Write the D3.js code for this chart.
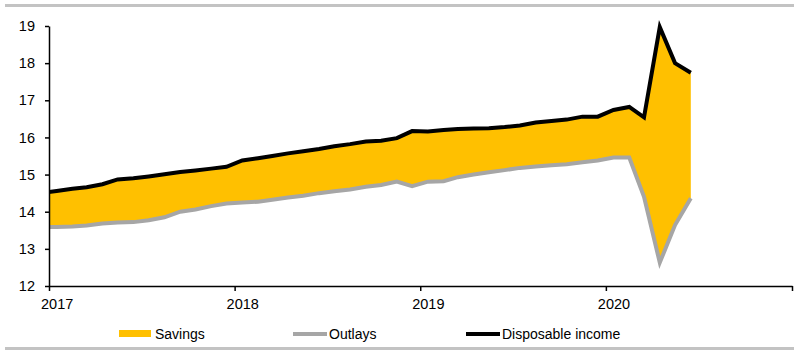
<!DOCTYPE html>
<html>
<head>
<meta charset="utf-8">
<script src="https://cdn.jsdelivr.net/npm/d3@7"></script>
<style>
  body { margin: 0; background: #fff; }
  svg { display: block; font-family: "Liberation Sans", Arial, sans-serif; }
</style>
</head>
<body>
<svg id="chart" width="800" height="354"></svg>
<script>
// Monthly series, Dec 2016 .. Jun 2020 (trillions, annualised)
const months = [
  '2016-12',
  '2017-01','2017-02','2017-03','2017-04','2017-05','2017-06','2017-07','2017-08','2017-09','2017-10','2017-11','2017-12',
  '2018-01','2018-02','2018-03','2018-04','2018-05','2018-06','2018-07','2018-08','2018-09','2018-10','2018-11','2018-12',
  '2019-01','2019-02','2019-03','2019-04','2019-05','2019-06','2019-07','2019-08','2019-09','2019-10','2019-11','2019-12',
  '2020-01','2020-02','2020-03','2020-04','2020-05','2020-06'
];
const income = [
  14.50,
  14.56, 14.62, 14.66, 14.74, 14.87, 14.90, 14.95, 15.01, 15.07, 15.11, 15.16, 15.21,
  15.38, 15.44, 15.50, 15.57, 15.63, 15.69, 15.76, 15.82, 15.89, 15.91, 15.98, 16.17,
  16.16, 16.20, 16.23, 16.24, 16.25, 16.28, 16.32, 16.40, 16.44, 16.48, 16.56, 16.56,
  16.74, 16.82, 16.54, 18.97, 18.00, 17.74
];
const outlays = [
  13.58,
  13.59, 13.60, 13.63, 13.68, 13.71, 13.72, 13.77, 13.85, 14.00, 14.06, 14.15, 14.22,
  14.25, 14.27, 14.32, 14.38, 14.43, 14.50, 14.55, 14.60, 14.67, 14.72, 14.81, 14.69,
  14.81, 14.82, 14.93, 15.00, 15.06, 15.12, 15.18, 15.22, 15.25, 15.28, 15.33, 15.38,
  15.46, 15.46, 14.40, 12.63, 13.64, 14.36
];
const yearTicks = [2017, 2018, 2019, 2020, 2021];
const yTicks = [12, 13, 14, 15, 16, 17, 18, 19];
const legendItems = ['Savings', 'Outlays', 'Disposable income'];

const GOLD = '#ffc000', GREY = '#a6a6a6', BLACK = '#000';

const svg = d3.select('#chart');
const plotL = 49, plotR = 792, plotT = 26, plotB = 286;

const parse = d3.timeParse('%Y-%m');
// plot each month in the middle of its month cell
const data = months.map(function(m, i) {
  const d = parse(m);
  return { date: new Date(d.getFullYear(), d.getMonth(), 16), inc: income[i], out: outlays[i] };
});

const x = d3.scaleTime()
  .domain([new Date(2017, 0, 1), new Date(2021, 0, 1)])
  .range([plotL, plotR]);
const y = d3.scaleLinear().domain([12, 19]).range([plotB, plotT]);

// frame rules
svg.append('rect').attr('x', 5).attr('y', 4).attr('width', 789).attr('height', 3).attr('fill', '#c3c3c3');
svg.append('rect').attr('x', 5).attr('y', 347).attr('width', 789).attr('height', 3).attr('fill', '#c3c3c3');

svg.append('clipPath').attr('id', 'plotClip')
  .append('rect').attr('x', plotL).attr('y', 0).attr('width', plotR - plotL).attr('height', plotB + 10);

const plot = svg.append('g').attr('clip-path', 'url(#plotClip)');

// savings band
plot.append('path').datum(data)
  .attr('d', d3.area().x(d => x(d.date)).y0(d => y(d.out)).y1(d => y(d.inc)))
  .attr('fill', GOLD);

plot.append('path').datum(data)
  .attr('d', d3.line().x(d => x(d.date)).y(d => y(d.out)))
  .attr('fill', 'none').attr('stroke', GREY).attr('stroke-width', 4)
  .attr('stroke-linejoin', 'miter');

plot.append('path').datum(data)
  .attr('d', d3.line().x(d => x(d.date)).y(d => y(d.inc)))
  .attr('fill', 'none').attr('stroke', BLACK).attr('stroke-width', 4)
  .attr('stroke-linejoin', 'miter');

// y axis
const yAxis = svg.append('g')
  .attr('transform', 'translate(' + plotL + ',0)')
  .call(d3.axisLeft(y).tickValues(yTicks).tickSize(4).tickSizeOuter(0).tickPadding(10).tickFormat(d3.format('d')));
yAxis.select('.domain').attr('stroke', '#000').attr('stroke-width', 1.5);
yAxis.selectAll('.tick line').attr('stroke', '#000').attr('stroke-width', 1.5);
yAxis.selectAll('text').attr('font-size', 14.5).attr('fill', '#000')
  .attr('font-family', '"Liberation Sans", Arial, sans-serif');

// x axis: ticks at year boundaries, labels under mid-January
const xAxis = svg.append('g')
  .attr('transform', 'translate(0,' + plotB + ')')
  .call(d3.axisBottom(x)
    .tickValues(yearTicks.map(yr => new Date(yr, 0, 1)))
    .tickSize(5).tickSizeOuter(0).tickPadding(8)
    .tickFormat(d => d.getFullYear() < 2021 ? d3.timeFormat('%Y')(d) : ''));
xAxis.select('.domain').attr('stroke', '#000').attr('stroke-width', 1.5);
xAxis.selectAll('.tick line').attr('stroke', '#000').attr('stroke-width', 1.5);
const halfMonth = x(new Date(2017, 0, 16)) - x(new Date(2017, 0, 1));
xAxis.selectAll('text').attr('font-size', 14.5).attr('fill', '#000')
  .attr('x', halfMonth)
  .attr('font-family', '"Liberation Sans", Arial, sans-serif');

// legend
const legend = svg.append('g');
const legendX = [119, 293, 466];
const ly = 334;
legendItems.forEach(function(name, i) {
  const g = legend.append('g').attr('transform', 'translate(' + legendX[i] + ',' + ly + ')');
  if (i === 0) {
    g.append('rect').attr('x', 0).attr('y', -4).attr('width', 32).attr('height', 7).attr('fill', GOLD);
  } else {
    g.append('line').attr('x1', 0).attr('x2', 34).attr('y1', 0).attr('y2', 0)
      .attr('stroke', i === 1 ? GREY : BLACK).attr('stroke-width', 4);
  }
  g.append('text').attr('x', 36).attr('y', 0).attr('dy', '0.35em')
    .attr('font-size', 14).attr('fill', '#000').text(name);
});
</script>
</body>
</html>
